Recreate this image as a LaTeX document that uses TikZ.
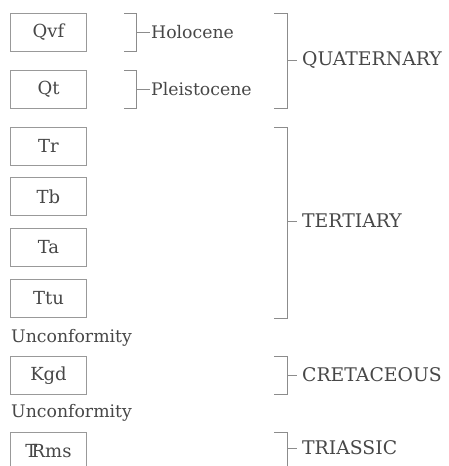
\documentclass[tikz,border=0pt]{standalone}
\usepackage{fontspec}
\setmainfont{DejaVu Serif}
\begin{document}
\begin{tikzpicture}[
  x=1pt, y=-1pt,
  font=\fontsize{17.3}{20}\selectfont,
  unit/.style={draw=black!40, line width=0.8pt, text=black!72, minimum width=76pt, minimum height=38pt, inner sep=0pt, font=\fontsize{18}{20}\selectfont},
  brace/.style={draw=black!45, line width=0.8pt},
  age/.style={anchor=west, inner sep=1pt, text=black!72},
  period/.style={age, inner xsep=5pt, font=\fontsize{18.8}{21}\selectfont},
  note/.style={anchor=west, inner sep=0pt, text=black!72}
]
\clip (0,0) rectangle (449,466);
\useasboundingbox (0,0) rectangle (449,466);

% Map units.
\node[unit] (qvf) at (48.5,32) {Qvf};
\node[unit] (qt) at (48.5,89) {Qt};
\node[unit] (tr) at (48.5,146) {Tr};
\node[unit] (tb) at (48.5,196.5) {Tb};
\node[unit] (ta) at (48.5,247.5) {Ta};
\node[unit] (ttu) at (48.5,298.5) {Ttu};
\node[note] (unc1) at (11,338) {Unconformity};
\node[unit] (kgd) at (48.5,375.5) {Kgd};
\node[note] (unc2) at (11,413) {Unconformity};
\node[unit] (trms) at (48.5,451) {T\kern-.32em Rms};

% Epochs.
\draw[brace] (124,13) -- (136,13) -- (136,51) -- (124,51);
\node[age] (holocene) at (150,32) {Holocene};
\draw[brace] (136,32) -- (holocene.west);
\draw[brace] (124,70) -- (136,70) -- (136,108) -- (124,108);
\node[age] (pleistocene) at (150,89) {Pleistocene};
\draw[brace] (136,89) -- (pleistocene.west);

% Periods.
\draw[brace] (274,13) -- (287,13) -- (287,108) -- (274,108);
\node[period] (quaternary) at (297,60) {QUATERNARY};
\draw[brace] (287,60) -- (quaternary.west);
\draw[brace] (274,127) -- (287,127) -- (287,318) -- (274,318);
\node[period] (tertiary) at (297,221) {TERTIARY};
\draw[brace] (287,221) -- (tertiary.west);
\draw[brace] (274,356) -- (287,356) -- (287,394) -- (274,394);
\node[period] (cretaceous) at (297,375) {CRETACEOUS};
\draw[brace] (287,375) -- (cretaceous.west);
\draw[brace] (274,432) -- (287,432) -- (287,470);
\node[period] (triassic) at (297,448) {TRIASSIC};
\draw[brace] (287,448) -- (triassic.west);

\end{tikzpicture}
\end{document}
